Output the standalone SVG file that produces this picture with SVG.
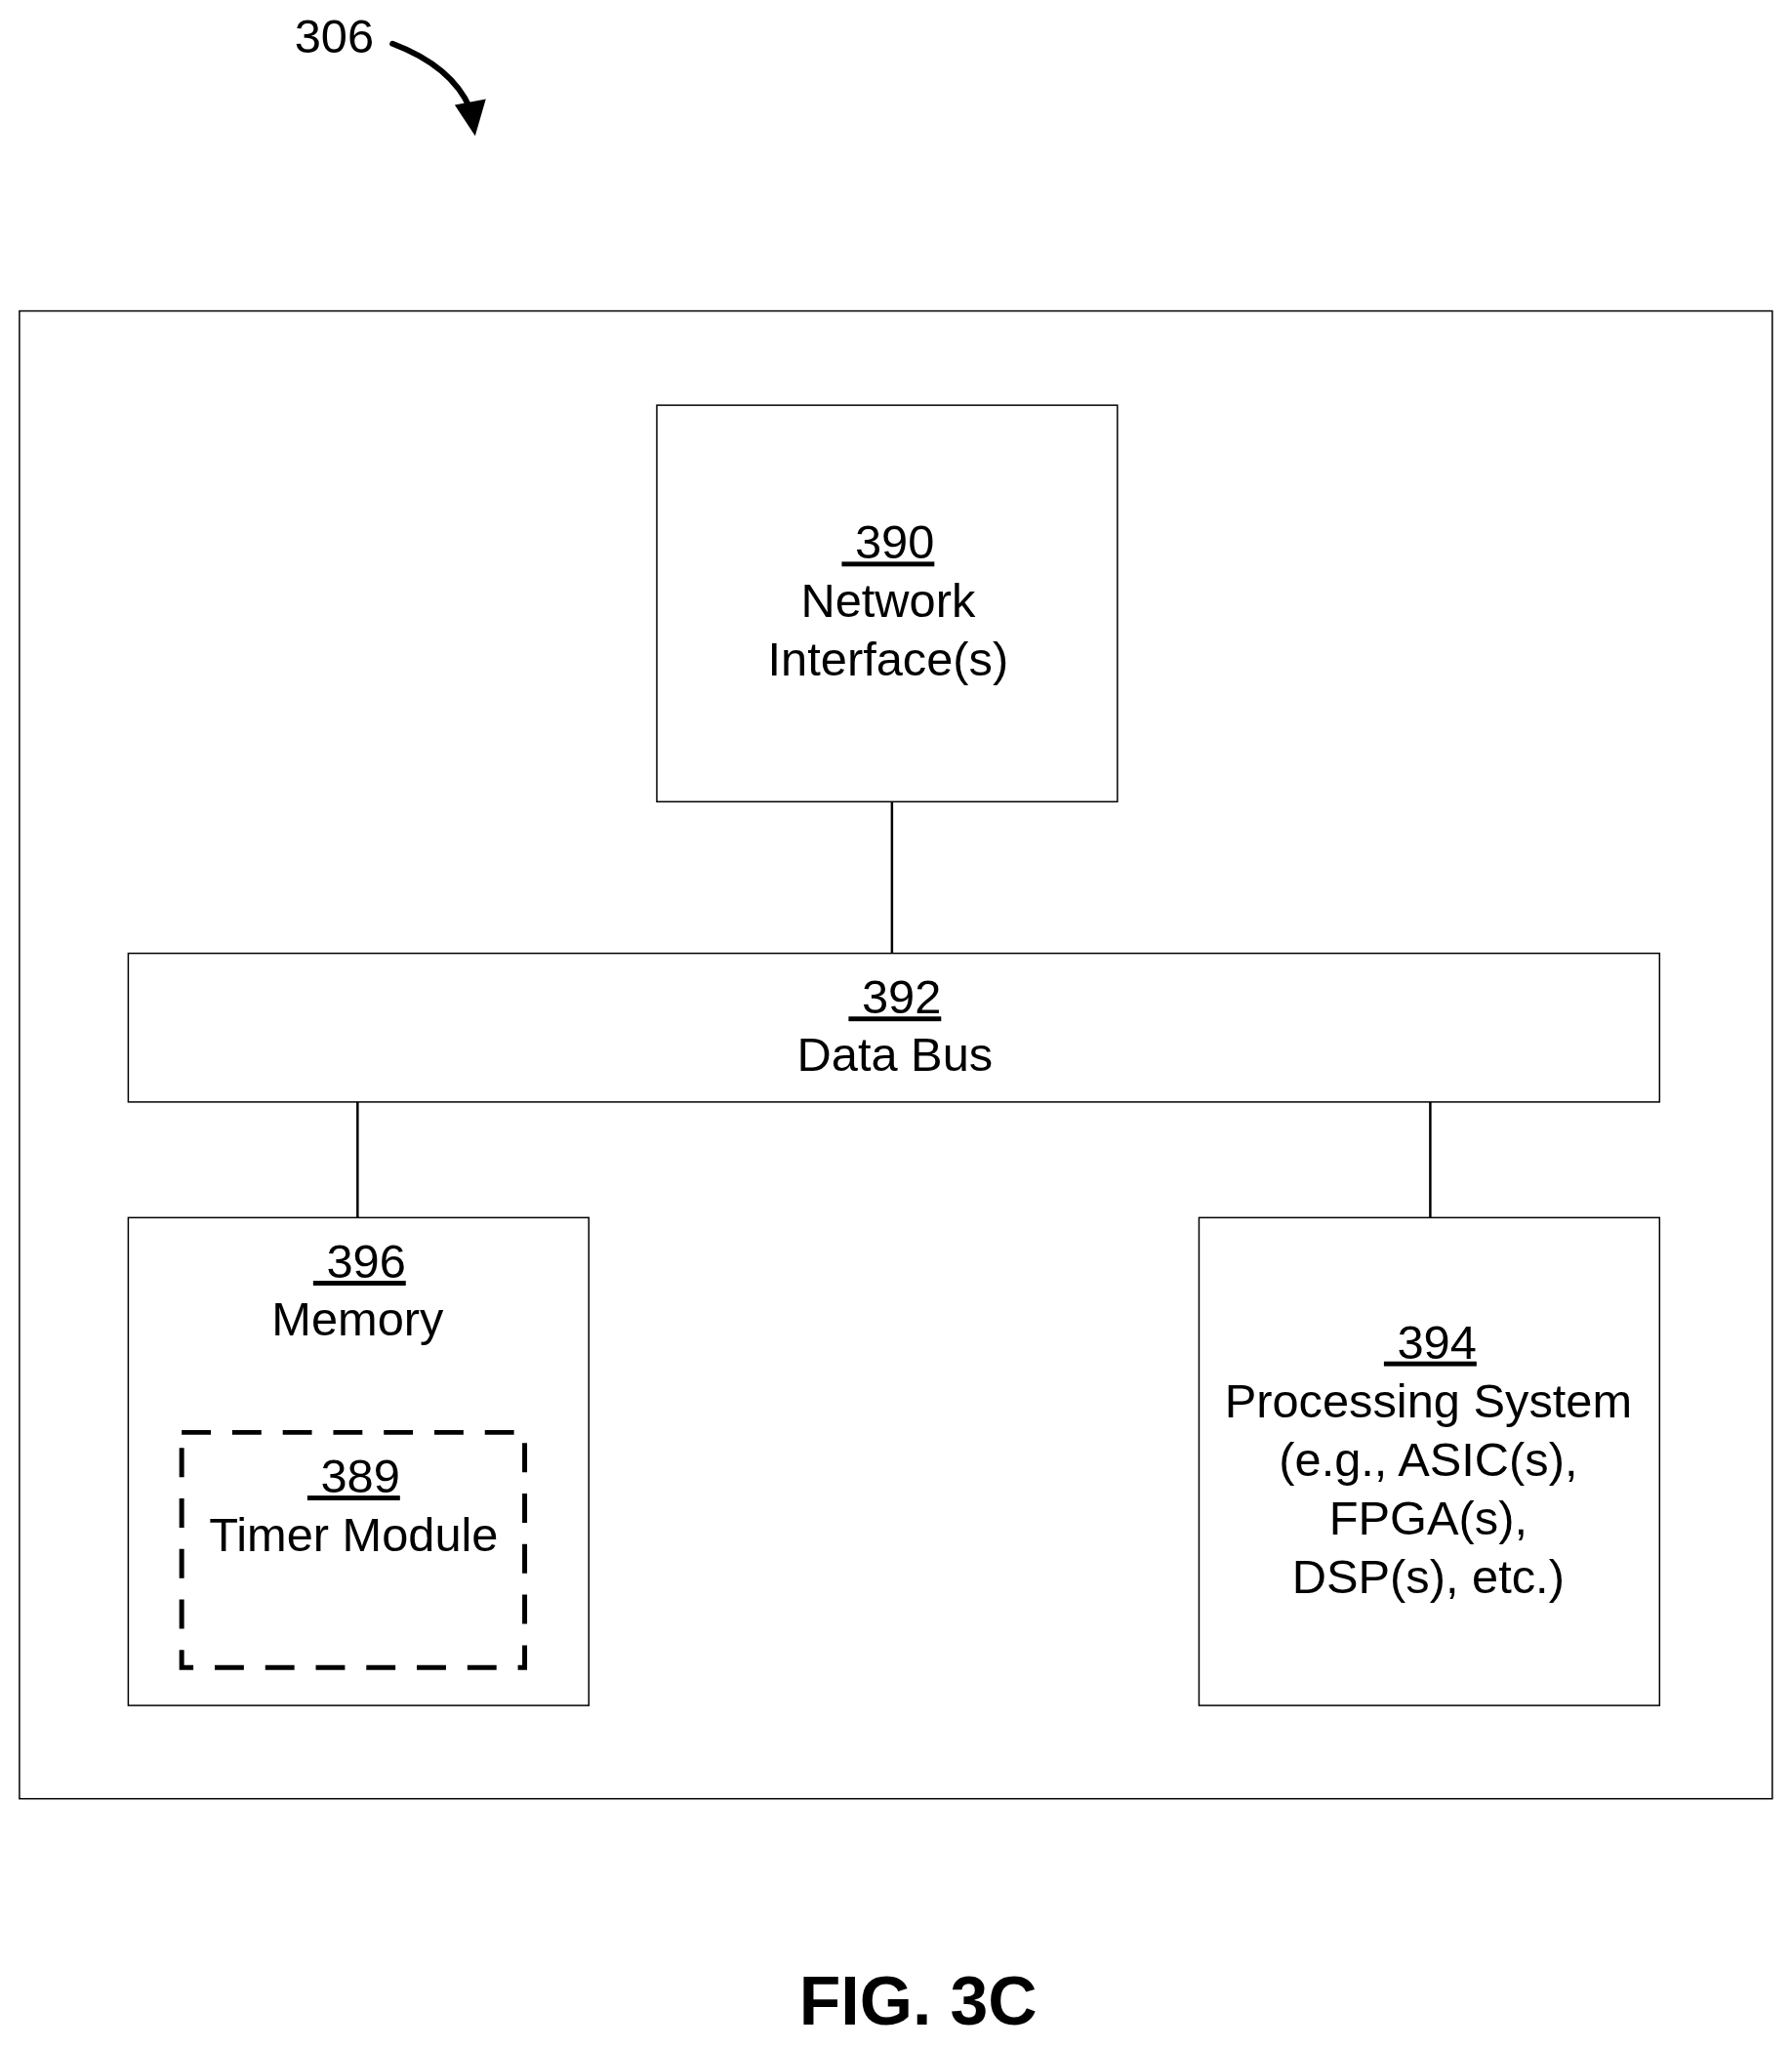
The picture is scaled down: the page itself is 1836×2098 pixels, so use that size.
<svg xmlns="http://www.w3.org/2000/svg" width="1836" height="2098" viewBox="0 0 1836 2098">
<style>
text{font-family:"Liberation Sans",Arial,sans-serif;font-size:49px;fill:#000;text-anchor:middle}
.u{text-decoration:underline}
.box{fill:#fff;stroke:#000;stroke-width:1.5}
.ln{stroke:#000;stroke-width:2.5;fill:none}
</style>
<g transform="scale(0.9955)">
<g id="label306"><text x="344" y="54" xml:space="preserve">306</text>
<path d="M404 45 Q465 68 484 112" fill="none" stroke="#000" stroke-width="6" stroke-linecap="round"/>
<path d="M468 108 L489 140 L500 102 Z" fill="#000"/></g>
<rect id="outer" class="box" x="20" y="320" width="1804" height="1531"/>
<g id="connectors">
<line class="ln" x1="918" y1="825" x2="918" y2="981"/>
<line class="ln" x1="368" y1="1134" x2="368" y2="1253"/>
<line class="ln" x1="1472" y1="1134" x2="1472" y2="1253"/>
</g>
<g id="n390"><rect class="box" x="676" y="417" width="474" height="408"/>
<text x="914" y="575" class="u" xml:space="preserve"> 390</text><text x="914" y="635">Network</text><text x="914" y="695">Interface(s)</text></g>
<g id="n392"><rect class="box" x="132" y="981" width="1576" height="153"/>
<text x="921" y="1043" class="u" xml:space="preserve"> 392</text><text x="921" y="1102">Data Bus</text></g>
<g id="n396"><rect class="box" x="132" y="1253" width="474" height="502"/>
<text x="370" y="1315" class="u" xml:space="preserve"> 396</text><text x="368" y="1374">Memory</text></g>
<g id="n389"><rect x="187" y="1474" width="353" height="242" fill="none" stroke="#000" stroke-width="5" stroke-dasharray="30,22"/>
<text x="364" y="1536" class="u" xml:space="preserve"> 389</text><text x="364" y="1596">Timer Module</text></g>
<g id="n394"><rect class="box" x="1234" y="1253" width="474" height="502"/>
<text x="1472" y="1398" class="u" xml:space="preserve"> 394</text><text x="1470" y="1459">Processing System</text>
<text x="1470" y="1519">(e.g., ASIC(s),</text><text x="1470" y="1579">FPGA(s),</text><text x="1470" y="1639">DSP(s), etc.)</text></g>
<text x="945" y="2083" style="font-weight:bold;font-size:70px">FIG. 3C</text>
</g>
</svg>
